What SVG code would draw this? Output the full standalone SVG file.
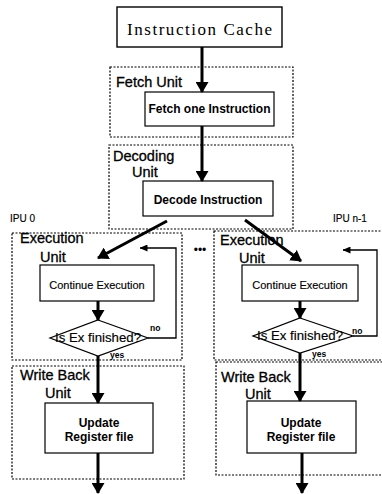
<svg xmlns="http://www.w3.org/2000/svg" width="382" height="494" viewBox="0 0 382 494">
<defs>
<marker id="big" markerUnits="userSpaceOnUse" markerWidth="11" markerHeight="13" viewBox="0 0 11 13" refX="10" refY="6.5" orient="auto"><path d="M0,0 L11,6.5 L0,13 z" fill="#000"/></marker>
<marker id="small" markerUnits="userSpaceOnUse" markerWidth="8" markerHeight="7" viewBox="0 0 8 7" refX="7.5" refY="3.5" orient="auto"><path d="M0,0 L8,3.5 L0,7 z" fill="#000"/></marker>
<style>
.box{fill:#fff;stroke:#000;stroke-width:1.2}
.dash{fill:none;stroke:#000;stroke-width:1.2;stroke-dasharray:2 1.5}
.thick{fill:none;stroke:#000;stroke-width:3;marker-end:url(#big)}
.thin{fill:none;stroke:#000;stroke-width:1.3;marker-end:url(#small)}
.lbl{font-family:"Liberation Sans",Arial,sans-serif;font-size:14.5px;fill:#000;stroke:#000;stroke-width:0.3}
.bold{font-family:"Liberation Sans",Arial,sans-serif;font-size:12px;font-weight:bold;fill:#000;text-anchor:middle}
.reg{font-family:"Liberation Sans",Arial,sans-serif;font-size:11px;fill:#000;text-anchor:middle;stroke:#000;stroke-width:0.15}
.tiny{font-family:"Liberation Sans",Arial,sans-serif;font-size:8.5px;font-weight:bold;fill:#000}
.ipu{font-family:"Liberation Sans",Arial,sans-serif;font-size:10px;fill:#000;stroke:#000;stroke-width:0.15}
</style>
</defs>
<rect width="382" height="494" fill="#fff"/>

<g id="units">
<rect class="dash" x="110" y="67" width="183" height="70"/>
<rect class="dash" x="109" y="145" width="184" height="84"/>
<rect class="dash" x="12" y="233" width="170" height="127"/>
<rect class="dash" x="12" y="366" width="172" height="113"/>
<rect class="dash" x="214" y="231" width="180" height="129"/>
<rect class="dash" x="216" y="362" width="180" height="113"/>
</g>

<g id="cache">
<rect class="box" x="117" y="7" width="165" height="40" style="stroke-width:1.4"/>
<text x="199.5" y="35" text-anchor="middle" textLength="145" lengthAdjust="spacing" style="font-family:'Liberation Serif','Times New Roman',serif;font-size:17px;fill:#000">Instruction Cache</text>
</g>

<g id="fetch">
<text class="lbl" x="116" y="87">Fetch Unit</text>
<rect class="box" x="145" y="92" width="129" height="34"/>
<text class="bold" x="209.5" y="113">Fetch one Instruction</text>
</g>

<g id="decode">
<text class="lbl" x="113" y="161">Decoding</text>
<text class="lbl" x="132" y="177">Unit</text>
<rect class="box" x="143" y="181" width="130" height="35"/>
<text class="bold" x="208" y="204">Decode Instruction</text>
</g>

<g id="labels">
<text class="ipu" x="10" y="222">IPU 0</text>
<text class="ipu" x="333" y="222">IPU n-1</text>
<text x="200" y="254" text-anchor="middle" style="font-family:'Liberation Sans',Arial,sans-serif;font-size:12px;fill:#000">•••</text>
</g>

<g id="exec0">
<text class="lbl" x="20" y="243">Execution</text>
<text class="lbl" x="40" y="262">Unit</text>
<rect class="box" x="40" y="265" width="114" height="36"/>
<text class="reg" x="97" y="289">Continue Execution</text>
</g>
<g id="check0">
<polygon class="box" points="98,320 148,338 98,356 50,338"/>
<text class="reg" x="98" y="342" textLength="86" lengthAdjust="spacingAndGlyphs" style="font-size:12px">Is Ex finished?</text>
<text class="tiny" x="150" y="331">no</text>
<text class="tiny" x="110" y="358">yes</text>
</g>
<g id="wb0">
<text class="lbl" x="20" y="380">Write Back</text>
<text class="lbl" x="45" y="398">Unit</text>
<rect class="box" x="45" y="403" width="108" height="50"/>
<text class="bold" x="99" y="427">Update</text>
<text class="bold" x="99" y="441">Register file</text>
</g>

<g id="execn">
<text class="lbl" x="220" y="245">Execution</text>
<text class="lbl" x="239" y="263">Unit</text>
<rect class="box" x="242" y="265" width="116" height="36"/>
<text class="reg" x="300" y="289">Continue Execution</text>
</g>
<g id="checkn">
<polygon class="box" points="300,318 353,336 300,353 253,336"/>
<text class="reg" x="300" y="340" textLength="86" lengthAdjust="spacingAndGlyphs" style="font-size:12px">Is Ex finished?</text>
<text class="tiny" x="352" y="334">no</text>
<text class="tiny" x="312" y="357">yes</text>
</g>
<g id="wbn">
<text class="lbl" x="221" y="382">Write Back</text>
<text class="lbl" x="245" y="399">Unit</text>
<rect class="box" x="247" y="401" width="109" height="52"/>
<text class="bold" x="301" y="427">Update</text>
<text class="bold" x="301" y="441">Register file</text>
</g>

<g id="connectors">
<line class="thick" x1="202" y1="47" x2="202" y2="92"/>
<line class="thick" x1="202" y1="126" x2="202" y2="181"/>
<line class="thick" x1="167" y1="221" x2="98" y2="258"/>
<line class="thick" x1="245" y1="220" x2="301" y2="261"/>
<line class="thick" x1="98" y1="301" x2="98" y2="320"/>
<line class="thick" x1="98" y1="356" x2="98" y2="403"/>
<line class="thick" x1="98" y1="453" x2="98" y2="493"/>
<polyline class="thin" points="148,338 176,338 176,248 140,248"/>
<line class="thick" x1="300" y1="301" x2="300" y2="318"/>
<line class="thick" x1="300" y1="353" x2="300" y2="401"/>
<line class="thick" x1="302" y1="453" x2="302" y2="493"/>
<polyline class="thin" points="353,336 377,336 377,250 343,250"/>
</g>
</svg>
